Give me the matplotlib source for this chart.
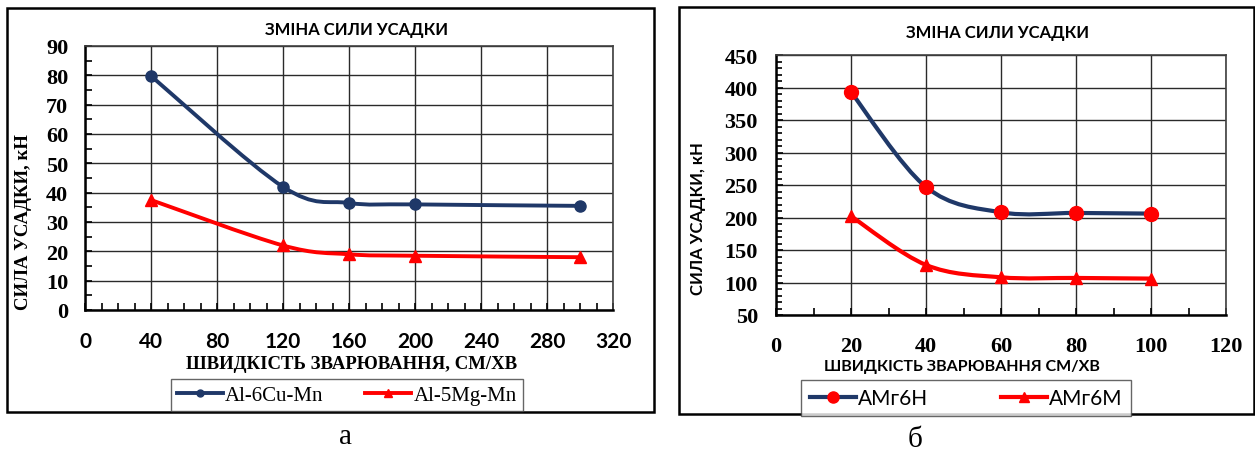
import matplotlib
matplotlib.use("Agg")
import matplotlib.pyplot as plt
from matplotlib.patches import Rectangle
from matplotlib.path import Path
from matplotlib.patches import PathPatch
from matplotlib.lines import Line2D
import numpy as np

# ---------------- data ----------------
speed_a = [40, 120, 160, 200, 300]
force_a_cu = [79.8, 42.0, 36.5, 36.0, 35.5]
force_a_mg = [37.5, 22.0, 19.0, 18.5, 18.0]
labels_a = ["Al-6Cu-Mn", "Al-5Mg-Mn"]

speed_b = [20, 40, 60, 80, 100]
force_b_h = [393, 247, 208, 207, 206]
force_b_m = [202, 127, 108, 107, 106]
labels_b = ["АМг6Н", "АМг6М"]

title_txt = "ЗМІНА СИЛИ УСАДКИ"
ylabel_txt = "СИЛА УСАДКИ, кН"
xlabel_a = "ШВИДКІСТЬ ЗВАРЮВАННЯ, СМ/ХВ"
xlabel_b = "ШВИДКІСТЬ ЗВАРЮВАННЯ СМ/ХВ"
captions = ["а", "б"]

NAVY = "#1f3868"
RED = "#ff0000"
SERIF = "Liberation Serif"
SANS = "Lato"

W, H = 1255, 452
fig = plt.figure(figsize=(W / 100, H / 100), dpi=100)


def fx(px):
    return px / W


def fy(py):
    return 1 - py / H


def smooth_path(ax, xs, ys, color, lw):
    """Excel-like smoothed line (Catmull-Rom Bezier) drawn in data coords."""
    x = np.asarray(xs, float)
    y = np.asarray(ys, float)
    n = len(x)
    verts = [(x[0], y[0])]
    codes = [Path.MOVETO]
    for i in range(n - 1):
        i0 = max(i - 1, 0)
        i3 = min(i + 2, n - 1)
        c1 = (x[i] + (x[i + 1] - x[i0]) / 6, y[i] + (y[i + 1] - y[i0]) / 6)
        c2 = (x[i + 1] - (x[i3] - x[i]) / 6, y[i + 1] - (y[i3] - y[i]) / 6)
        verts += [c1, c2, (x[i + 1], y[i + 1])]
        codes += [Path.CURVE4] * 3
    ax.add_patch(PathPatch(Path(verts, codes), fill=False, edgecolor=color,
                           lw=lw, capstyle="round", joinstyle="round", zorder=3))


def style_axes(ax):
    ax.grid(True, which="major", color="#2a2a2a", lw=1.0)
    ax.set_axisbelow(True)
    for s in ["top", "right"]:
        ax.spines[s].set_color("#404040")
        ax.spines[s].set_linewidth(1.2)
    for s in ["left", "bottom"]:
        ax.spines[s].set_color("black")
        ax.spines[s].set_linewidth(1.8)
    ax.tick_params(which="both", direction="in", color="black", width=1.2,
                   top=False, right=False)
    ax.tick_params(which="major", length=5)
    ax.tick_params(which="minor", length=5)


# outer frames
fig.patches.append(Rectangle((fx(7), fy(413)), fx(654 - 7), (413 - 9) / H,
                             transform=fig.transFigure, fill=False,
                             edgecolor="black", lw=1.8))
fig.patches.append(Rectangle((fx(679), fy(415)), fx(1254 - 679), (415 - 8) / H,
                             transform=fig.transFigure, fill=False,
                             edgecolor="black", lw=1.8))

# ---------------- panel a ----------------
axA = fig.add_axes([fx(85), fy(311), fx(613 - 85), (311 - 47) / H])
axA.set_xlim(0, 320)
axA.set_ylim(0, 90)
axA.set_xticks(np.arange(0, 321, 40))
axA.set_xticks(np.arange(0, 321, 10), minor=True)
axA.set_yticks(np.arange(0, 91, 10))
axA.set_yticks(np.arange(0, 91, 5), minor=True)
style_axes(axA)
axA.tick_params(axis="x", which="major", pad=15)
axA.tick_params(axis="y", which="major", pad=12)
for t in axA.get_xticklabels():
    t.set_fontfamily(SANS); t.set_fontweight("bold"); t.set_fontsize(15)
for t in axA.get_yticklabels():
    t.set_fontfamily(SERIF); t.set_fontweight("bold"); t.set_fontsize(16)

smooth_path(axA, speed_a, force_a_cu, NAVY, 2.8)
smooth_path(axA, speed_a, force_a_mg, RED, 2.8)
axA.plot(speed_a, force_a_cu, ls="none", marker="o", ms=8, color=NAVY, zorder=4)
axA.plot(speed_a, force_a_mg, ls="none", marker="^", ms=9, color=RED, zorder=4)

fig.text(fx(357), fy(30), title_txt, ha="center", va="center",
         fontfamily=SANS, fontweight="bold", fontsize=12)
fig.text(fx(352), fy(365), xlabel_a, ha="center", va="center",
         fontfamily=SERIF, fontweight="bold", fontsize=13.5)
fig.text(fx(24), fy(222), ylabel_txt, ha="center", va="center", rotation=90,
         fontfamily=SERIF, fontweight="bold", fontsize=13.5)

hA = [Line2D([], [], color=NAVY, lw=2.8, marker="o", ms=5, mfc=NAVY, mec=NAVY),
      Line2D([], [], color=RED, lw=2.8, marker="^", ms=6, mfc=RED, mec=RED)]
legA = fig.legend(hA, labels_a, loc="center", ncol=2,
                  bbox_to_anchor=(fx(347), fy(396)), frameon=True, fancybox=False,
                  edgecolor="#404040", handlelength=2.2, columnspacing=2.0,
                  handletextpad=0.1, borderpad=0.3,
                  prop={"family": SERIF, "size": 15})
legA.get_frame().set_linewidth(1.0)

fig.text(fx(345), fy(437), captions[0], ha="center", va="center",
         fontfamily=SERIF, fontsize=21)

# ---------------- panel b ----------------
axB = fig.add_axes([fx(776), fy(316), fx(1226 - 776), (316 - 56) / H])
axB.set_xlim(0, 120)
axB.set_ylim(50, 450)
axB.set_xticks(np.arange(0, 121, 20))
axB.set_xticks(np.arange(0, 121, 10), minor=True)
axB.set_yticks(np.arange(50, 451, 50))
axB.set_yticks(np.arange(50, 451, 10), minor=True)
style_axes(axB)
axB.tick_params(axis="y", which="minor", length=4)
axB.tick_params(axis="x", which="major", pad=15)
axB.tick_params(axis="y", which="major", pad=13)
for t in axB.get_xticklabels() + axB.get_yticklabels():
    t.set_fontfamily(SERIF); t.set_fontweight("bold"); t.set_fontsize(16)

smooth_path(axB, speed_b, force_b_h, NAVY, 3.0)
smooth_path(axB, speed_b, force_b_m, RED, 3.0)
axB.plot(speed_b, force_b_h, ls="none", marker="o", ms=10, color=RED, zorder=4)
axB.plot(speed_b, force_b_m, ls="none", marker="^", ms=9, color=RED, zorder=4)

fig.text(fx(998), fy(33), title_txt, ha="center", va="center",
         fontfamily=SANS, fontweight="bold", fontsize=12)
fig.text(fx(962), fy(367), xlabel_b, ha="center", va="center",
         fontfamily=SANS, fontweight="bold", fontsize=11.5)
fig.text(fx(698), fy(219), ylabel_txt, ha="center", va="center", rotation=90,
         fontfamily=SANS, fontweight="bold", fontsize=12)

hB = [Line2D([], [], color=NAVY, lw=3.0, marker="o", ms=8, mfc=RED, mec=RED),
      Line2D([], [], color=RED, lw=3.0, marker="^", ms=7, mfc=RED, mec=RED)]
legB = fig.legend(hB, labels_b, loc="center", ncol=2,
                  bbox_to_anchor=(fx(966), fy(399)), frameon=True, fancybox=False,
                  edgecolor="#404040", handlelength=2.2, columnspacing=3.5,
                  handletextpad=0.1, borderpad=0.4, borderaxespad=0,
                  prop={"family": SANS, "size": 15})
legB.get_frame().set_linewidth(1.0)

fig.text(fx(915), fy(440), captions[1], ha="center", va="center",
         fontfamily=SERIF, fontsize=21)

fig.savefig("out.png", dpi=100, facecolor="white")
